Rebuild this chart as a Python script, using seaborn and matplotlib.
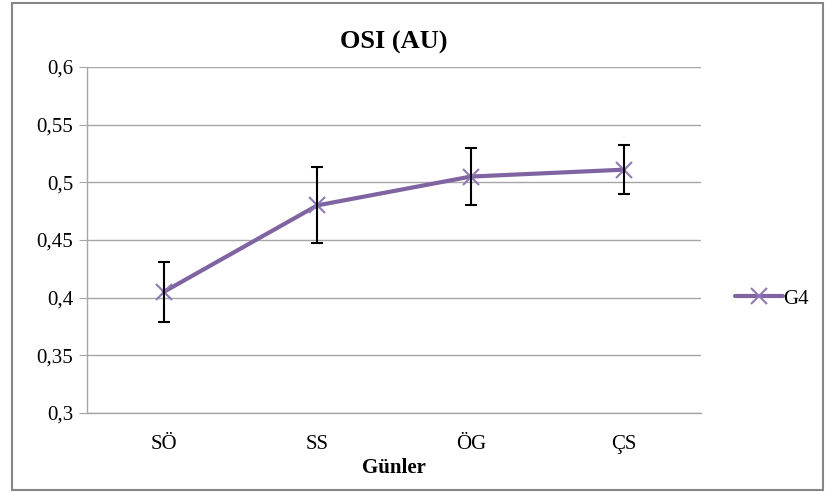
import numpy as np
import pandas as pd
import matplotlib
matplotlib.use("Agg")
import matplotlib.pyplot as plt
from matplotlib.patches import Rectangle
from matplotlib.ticker import FuncFormatter, FixedLocator
import seaborn as sns

# veri
gunler = ["SÖ", "SS", "ÖG", "ÇS"]
osi_ort = [0.405, 0.480, 0.505, 0.511]
osi_sd = [0.026, 0.033, 0.025, 0.021]
seri_adi = "G4"

df = pd.DataFrame({"Günler": gunler, "OSI": osi_ort, "SD": osi_sd})

sns.set_style("white")
plt.rcParams["font.family"] = ["Liberation Serif", "DejaVu Serif"]
plt.rcParams["text.color"] = "black"
plt.rcParams["axes.labelcolor"] = "black"
plt.rcParams["xtick.color"] = "black"
plt.rcParams["ytick.color"] = "black"

fig = plt.figure(figsize=(8.26, 4.92), dpi=100)
ax = fig.add_axes([0.1053, 0.1606, 0.7434, 0.7032])

mor = "#8064A2"
gri = "#A6A6A6"

sns.lineplot(data=df, x="Günler", y="OSI", ax=ax, sort=False, color=mor,
             linewidth=3, marker="x", markersize=12, markeredgewidth=1.5,
             markeredgecolor="#9078B4", label=seri_adi, zorder=3)
ax.errorbar(np.arange(len(gunler)), df["OSI"], yerr=df["SD"], fmt="none",
            ecolor="black", elinewidth=1.5, capsize=4.5, capthick=1.5, zorder=4)

ax.set_xlim(-0.5, len(gunler) - 0.5)
ax.set_ylim(0.3, 0.6)
ax.set_yticks(np.arange(0.3, 0.601, 0.05))
ax.yaxis.set_major_formatter(FuncFormatter(lambda v, p: f"{v:.2f}".rstrip("0").replace(".", ",")))
ax.yaxis.grid(True, color=gri, linewidth=1)
ax.set_axisbelow(True)

ax.xaxis.set_minor_locator(FixedLocator(np.arange(-0.5, len(gunler), 1.0)))
ax.tick_params(axis="x", which="major", length=0, pad=16, labelsize=15)
ax.tick_params(axis="x", which="minor", length=5, color=gri, direction="out")
ax.tick_params(axis="y", length=6, color=gri, labelcolor="black", direction="out",
               left=True, labelsize=15, pad=4)

for s in ["top", "right"]:
    ax.spines[s].set_visible(False)
for s in ["left", "bottom"]:
    ax.spines[s].set_color(gri)
    ax.spines[s].set_linewidth(1)

ax.set_title("OSI (AU)", fontsize=19, fontweight="bold", pad=13)
ax.set_xlabel("Günler", fontsize=15, fontweight="bold", labelpad=3)
ax.set_ylabel("")

ax.legend(loc="center left", bbox_to_anchor=(1.055, 0.33), frameon=False,
          fontsize=15, handlelength=2.3, handletextpad=0.0,
          borderaxespad=0, borderpad=0)

fig.patches.append(Rectangle((12 / 826, 2 / 492), 811 / 826, 487 / 492,
                             transform=fig.transFigure, fill=False,
                             edgecolor="#868686", linewidth=1.5))

fig.savefig("out.png", dpi=100)
